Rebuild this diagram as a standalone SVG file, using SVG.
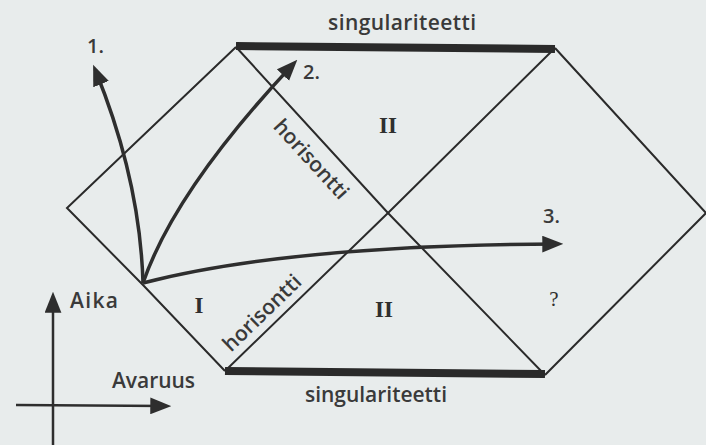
<svg xmlns="http://www.w3.org/2000/svg" width="706" height="445" viewBox="0 0 706 445">
  <style>
    .thin { fill: none; stroke: #2a2a2a; stroke-width: 2; stroke-linejoin: miter; }
    .bar { fill: none; stroke: #2a2a2a; stroke-width: 8; stroke-linecap: butt; }
    .arrow { fill: none; stroke: #2e2e2e; stroke-width: 3.5; marker-end: url(#head); }
    .axis { fill: none; stroke: #2e2e2e; stroke-width: 2.5; marker-end: url(#head); }
    .sans { font-family: "Open Sans", "Liberation Sans", sans-serif; font-weight: 600; fill: #3a3a3a; }
    .roman { font-family: "Liberation Serif", serif; font-weight: bold; fill: #2f2f2f; text-anchor: middle; }
  </style>
  <defs>
    <marker id="head" viewBox="0 0 20 16" refX="14" refY="8" markerWidth="21" markerHeight="17" markerUnits="userSpaceOnUse" orient="auto">
      <path d="M0,0 L20,8 L0,16 z" fill="#2e2e2e"/>
    </marker>
  </defs>
  <rect width="706" height="445" fill="#e8ecec"/>

  <g id="diagram-lines">
    <path class="thin" d="M236,47 L67,208 L143,285 L225,371"/>
    <path class="thin" d="M236,47 L388,213 L545,375"/>
    <path class="thin" d="M225,371 L388,213 L555,48"/>
    <path class="thin" d="M555,48 L706,213 L545,375"/>
    <path class="bar" d="M236,46 L555,49"/>
    <path class="bar" d="M225,371 L545,374"/>
  </g>

  <g id="connectors">
    <path class="arrow" d="M143,283 Q140,180 95.5,70.5"/>
    <path class="arrow" d="M143,283 Q175,190 293,64.4"/>
    <path class="arrow" d="M143,283 Q290,245 557,244"/>
    <path class="axis" d="M53,445 L53,298"/>
    <path class="axis" d="M16,405 L165,406"/>
  </g>

  <g id="labels">
    <text class="sans" x="328" y="30" font-size="21" textLength="148" lengthAdjust="spacing">singulariteetti</text>
    <text class="sans" x="305" y="402" font-size="21" textLength="142" lengthAdjust="spacing">singulariteetti</text>
    <text class="sans" x="87" y="53" font-size="20">1.</text>
    <text class="sans" x="303" y="79" font-size="20">2.</text>
    <text class="sans" x="543" y="223" font-size="20">3.</text>
    <text class="sans" x="70" y="308" font-size="21" textLength="48" lengthAdjust="spacing">Aika</text>
    <text class="sans" x="112" y="388" font-size="21" textLength="83" lengthAdjust="spacing">Avaruus</text>
    <text class="sans" font-size="21" text-anchor="middle" textLength="100" lengthAdjust="spacing" transform="translate(306,164) rotate(47.5)">horisontti</text>
    <text class="sans" font-size="21" text-anchor="middle" textLength="100" lengthAdjust="spacing" transform="translate(267,318) rotate(-44)">horisontti</text>
    <text class="roman" x="388" y="133" font-size="23">II</text>
    <text class="roman" x="384" y="317" font-size="23">II</text>
    <text class="roman" x="199" y="313" font-size="23">I</text>
    <text x="554" y="306" font-size="21" text-anchor="middle" font-family="Liberation Serif, serif" fill="#2f2f2f">?</text>
  </g>
</svg>
